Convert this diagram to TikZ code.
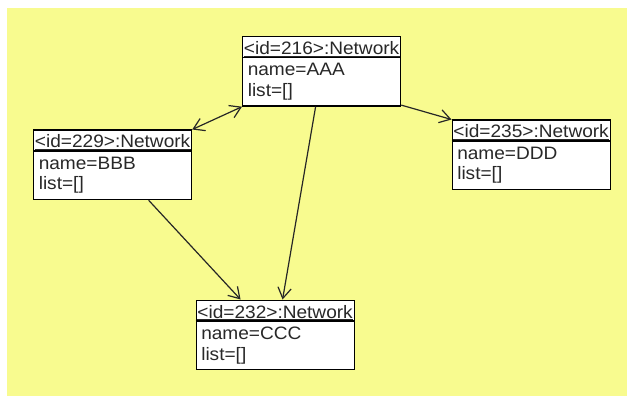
\documentclass[tikz,border=0pt]{standalone}
\usepackage{fontspec}
\usetikzlibrary{arrows.meta,calc}
\newfontfamily\netfont[FakeStretch=1.06]{Liberation Sans}
\definecolor{bgyellow}{RGB}{248,251,143}
\definecolor{txtgray}{RGB}{40,40,40}
\newcommand\netbox[5]{%
  \node[netbox] (#1) at (#2,#3) {};
  \draw[sepline] ($(#1.north west)+(0,21.5)$) -- ($(#1.north east)+(0,21.5)$);
  \node[boxtext, anchor=base] (#1t) at ($(#1.north)+(0,18.5)$) {<id=#4>:Network};
  \draw[underl] ([yshift=-1.1pt]#1t.base west) -- ([yshift=-1.1pt]#1t.base east);
  \node[boxtext, anchor=base west] (#1n) at ($(#1.north west)+(5.5,40)$) {name=#5};
  \node[boxtext, anchor=base west] (#1l) at ($(#1.north west)+(5.5,60.5)$) {list=[]};
}
\begin{document}
\begin{tikzpicture}[x=0.75pt,y=-0.75pt,
  netbox/.style={draw=black, fill=white, line width=0.9pt, anchor=north west,
    minimum width=158*0.75pt, minimum height=69.5*0.75pt, inner sep=0pt},
  sepline/.style={draw=black, line width=0.9pt},
  underl/.style={draw=txtgray, line width=0.6pt},
  boxtext/.style={inner sep=0pt, text=txtgray, font=\netfont\fontsize{13.5pt}{16pt}\selectfont},
  conn/.style={draw=black!85, line width=0.9pt},
  tip/.tip={Straight Barb[length=8pt,width=10pt,line width=0.9pt]}
]
\useasboundingbox (0,0) rectangle (628,399);
\fill[white] (0,0) rectangle (628,399);
\fill[bgyellow] (7,8) rectangle (627,396);

\netbox{n216}{242}{36}{216}{AAA}
\netbox{n229}{33}{129.5}{229}{BBB}
\netbox{n235}{451.5}{119.5}{235}{DDD}
\netbox{n232}{195.5}{299.5}{232}{CCC}

\draw[conn, {tip}-{tip}] (n229.north east) -- (n216.south west);
\draw[conn, -{tip}] ([yshift=1.2pt]n216.south east) -- (n235.north west);
\draw[conn, -{tip}] ([xshift=-4.5pt]n216.south) -- ([xshift=5.6pt]n232.north);
\draw[conn, -{tip}] ([xshift=27pt]n229.south) -- ([xshift=-25.9pt]n232.north);
\end{tikzpicture}
\end{document}
